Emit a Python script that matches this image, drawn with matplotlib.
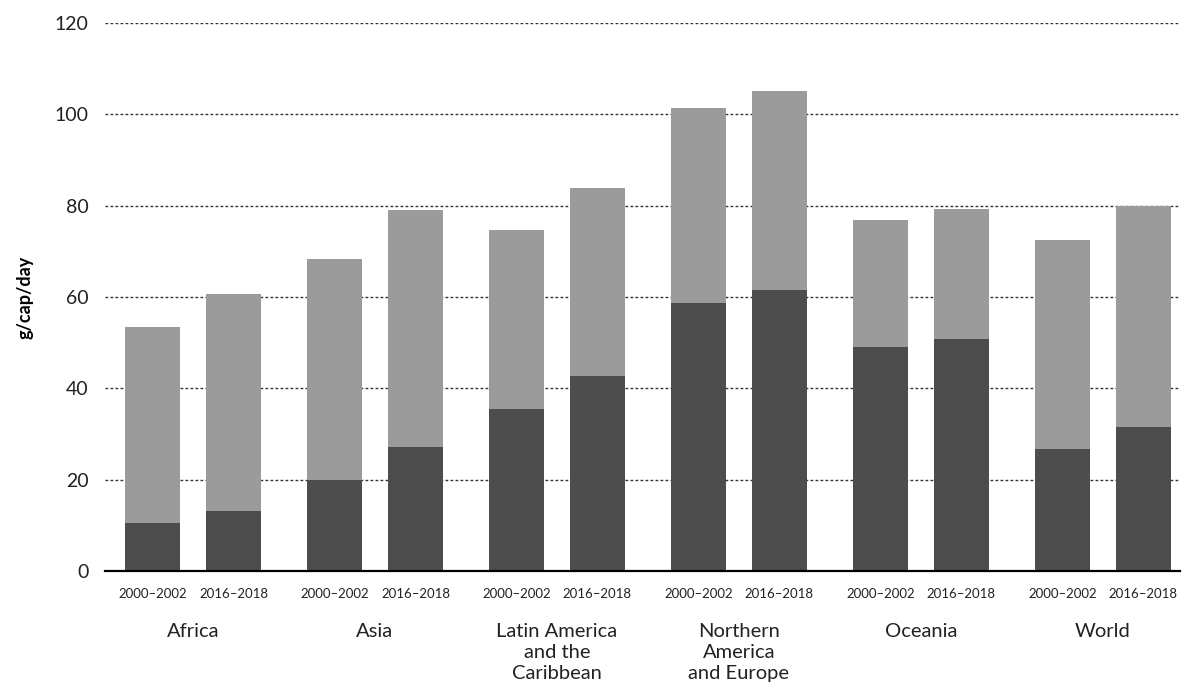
import matplotlib
matplotlib.use("Agg")
import matplotlib.pyplot as plt
import matplotlib.transforms as mtransforms
import numpy as np

plt.rcParams['font.family'] = ['Lato', 'DejaVu Sans']

regions = ["Africa", "Asia", "Latin America\nand the\nCaribbean",
           "Northern\nAmerica\nand Europe", "Oceania", "World"]
periods = ["2000\u20132002", "2016\u20132018"]
# dark (lower) segment values
dark_2000 = [10.5, 20.0, 35.5, 58.7, 49.0, 26.7]
dark_2016 = [13.1, 27.2, 42.7, 61.5, 50.8, 31.5]
# total bar heights
total_2000 = [53.4, 68.3, 74.7, 101.3, 76.9, 72.5]
total_2016 = [60.7, 79.0, 83.9, 105.2, 79.3, 80.0]

dark_col = "#4d4d4d"
light_col = "#9b9b9b"

fig = plt.figure(figsize=(11.87, 6.97), dpi=100)
ax = fig.add_axes([0.0885, 0.181, 0.9055, 0.786])

g = np.arange(len(regions))
off = 0.445
w = 0.30
x1 = g
x2 = g + off

for xs, dark, tot in [(x1, dark_2000, total_2000), (x2, dark_2016, total_2016)]:
    dark = np.array(dark)
    tot = np.array(tot)
    ax.bar(xs, dark, width=w, color=dark_col, zorder=3)
    ax.bar(xs, tot - dark, bottom=dark, width=w, color=light_col, zorder=3)

ax.set_ylim(0, 120)
ax.set_xlim(-0.261, 5.646)
ax.set_yticks([0, 20, 40, 60, 80, 100, 120])
ax.tick_params(axis='y', length=0, labelsize=14, pad=12, colors="#222222")
ax.yaxis.grid(True, linestyle=(0, (2.0, 1.6)), color="#333333", linewidth=1.0, zorder=0)
for s in ["top", "right", "left"]:
    ax.spines[s].set_visible(False)
ax.spines["bottom"].set_linewidth(1.6)
ax.spines["bottom"].set_color("black")
ax.spines["bottom"].set_zorder(4)

xt = np.column_stack([x1, x2]).ravel()
ax.set_xticks(xt)
ax.set_xticklabels(periods * len(regions), fontsize=9.5)
ax.tick_params(axis='x', length=0, pad=12, colors="#222222")

trans = mtransforms.blended_transform_factory(ax.transData, ax.transAxes)
for gi, name in enumerate(regions):
    ax.text(gi + off / 2, -0.095, name, transform=trans, ha='center', va='top',
            fontsize=14.5, linespacing=1.28, color="#222222")

ax.set_ylabel("g/cap/day", fontsize=13, fontweight='bold', labelpad=15)

fig.savefig("out.png", dpi=100)
